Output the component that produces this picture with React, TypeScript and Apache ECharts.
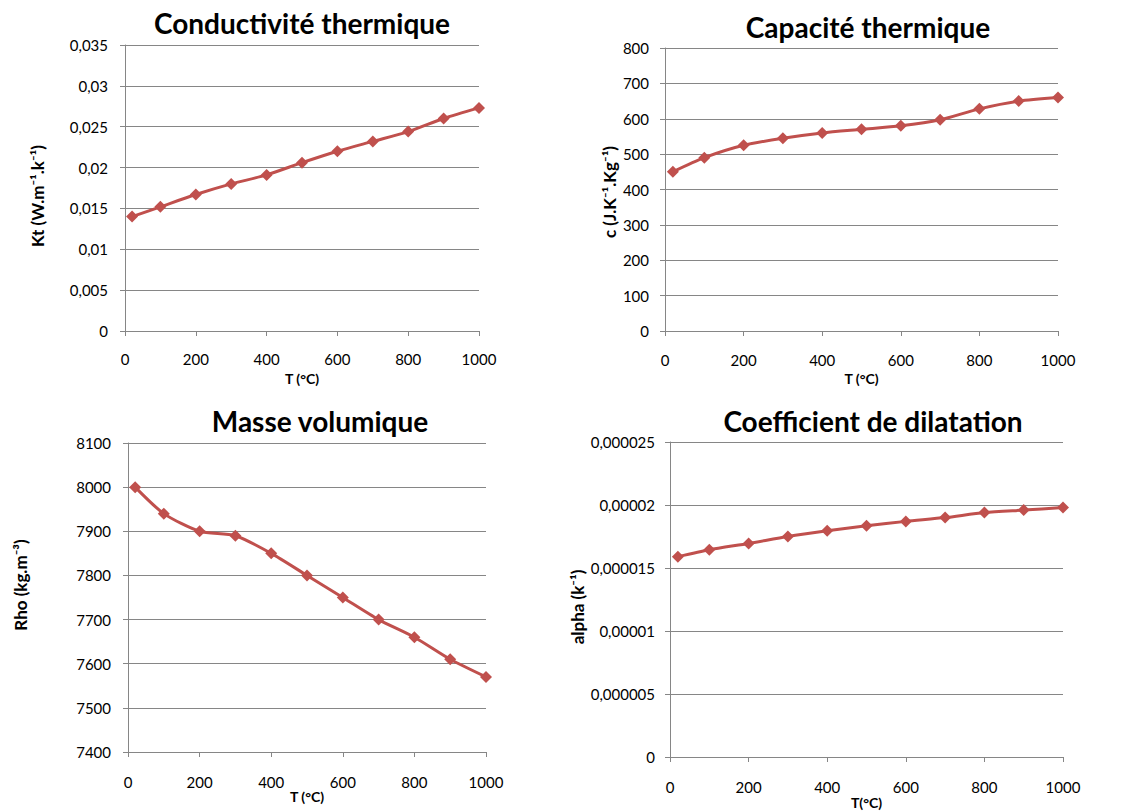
import React, { useEffect, useRef } from "react";
import * as echarts from "echarts";

const temps = [20, 100, 200, 300, 400, 500, 600, 700, 800, 900, 1000];
const conductivity = [0.014, 0.0152, 0.0167, 0.018, 0.0191, 0.0206, 0.022, 0.0232, 0.0244, 0.026, 0.0273];
const capacity = [450, 490, 525, 545, 560, 570, 580, 597, 628, 650, 660];
const density = [8000, 7940, 7900, 7890, 7850, 7800, 7750, 7700, 7660, 7610, 7570];
const dilatation = [1.59e-5, 1.645e-5, 1.695e-5, 1.75e-5, 1.795e-5, 1.835e-5, 1.87e-5, 1.9e-5, 1.94e-5, 1.96e-5, 1.98e-5];

const titles = ["Conductivité thermique", "Capacité thermique", "Masse volumique", "Coefficient de dilatation"];
const yNames = ["Kt (W.m⁻¹.k⁻¹)", "c (J.K⁻¹.Kg⁻¹)", "Rho (kg.m⁻³)", "alpha (k⁻¹)"];
const xNames = ["T (°C)", "T (°C)", "T (°C)", "T(°C)"];

const RED = "#C0504D";
const GRAY = "#868686";
const FONT = "Lato, 'Open Sans', sans-serif";

const fmt = (v: number) => String(Number(v.toPrecision(6))).replace(".", ",");
const fmtX = (v: number) => String(Math.round(v));

export default function App() {
  const ref = useRef<HTMLDivElement>(null);
  useEffect(() => {
    if (!ref.current) return;
    const chart = echarts.init(ref.current, null, { renderer: "svg" });

    const grids = [
      { left: 125, top: 45, width: 354, height: 286 },
      { left: 665, top: 48, width: 393, height: 283 },
      { left: 128, top: 443, width: 358, height: 309 },
      { left: 670, top: 442, width: 393, height: 315 },
    ];
    const yCfg = [
      { min: 0, max: 0.035, interval: 0.005, margin: 17 },
      { min: 0, max: 800, interval: 100, margin: 16 },
      { min: 7400, max: 8100, interval: 100, margin: 17 },
      { min: 0, max: 0.000025, interval: 0.000005, margin: 15 },
    ];
    const xCfg = [
      { nameGap: 40, margin: 20 },
      { nameGap: 40, margin: 21 },
      { nameGap: 31, margin: 22 },
      { nameGap: 38, margin: 22 },
    ];
    const series = [conductivity, capacity, density, dilatation];
    const titlePos = [
      [302, 23],
      [868, 27],
      [320, 421],
      [873, 421],
    ];
    const yNamePos = [
      [37, 196],
      [609, 192],
      [20, 585],
      [577, 607],
    ];

    chart.setOption({
      animation: false,
      backgroundColor: "#ffffff",
      grid: grids.map((g) => ({ ...g, containLabel: false })),
      xAxis: grids.map((_, i) => ({
        type: "value",
        gridIndex: i,
        min: 0,
        max: 1000,
        interval: 200,
        name: xNames[i],
        nameLocation: "middle",
        nameGap: xCfg[i].nameGap,
        nameTextStyle: { fontFamily: FONT, fontWeight: "bold", fontSize: 14, color: "#000" },
        axisLine: { show: true, lineStyle: { color: GRAY, width: 1 } },
        axisTick: { show: true, length: 5, lineStyle: { color: GRAY } },
        axisLabel: { fontFamily: FONT, fontSize: 15, color: "#000", margin: xCfg[i].margin, formatter: fmtX },
        splitLine: { show: false },
      })),
      yAxis: grids.map((_, i) => ({
        type: "value",
        gridIndex: i,
        min: yCfg[i].min,
        max: yCfg[i].max,
        interval: yCfg[i].interval,
        axisLine: { show: true, lineStyle: { color: GRAY, width: 1 } },
        axisTick: { show: true, length: 5, lineStyle: { color: GRAY } },
        axisLabel: { fontFamily: FONT, fontSize: 15, color: "#000", margin: yCfg[i].margin, formatter: fmt },
        splitLine: { show: true, lineStyle: { color: GRAY, width: 1 } },
      })),
      series: series.map((vals, i) => ({
        type: "line",
        xAxisIndex: i,
        yAxisIndex: i,
        data: temps.map((t, j) => [t, vals[j]]),
        smooth: 0.25,
        symbol: "diamond",
        symbolSize: 12,
        lineStyle: { color: RED, width: 3 },
        itemStyle: { color: RED },
      })),
      graphic: [
        ...titles.map((t, i) => ({
          type: "text",
          x: titlePos[i][0],
          y: titlePos[i][1],
          style: {
            text: t,
            font: `bold 28px ${FONT}`,
            fill: "#000",
            align: "center",
            verticalAlign: "middle",
          },
        })),
        ...yNames.map((t, i) => ({
          type: "text",
          x: yNamePos[i][0],
          y: yNamePos[i][1],
          rotation: Math.PI / 2,
          style: {
            text: t,
            font: `bold 17px ${FONT}`,
            fill: "#000",
            align: "center",
            verticalAlign: "middle",
          },
        })),
      ],
    });
    return () => chart.dispose();
  }, []);
  return <div ref={ref} style={{ position: "fixed", left: 0, top: 0, width: 1132, height: 812 }} />;
}
